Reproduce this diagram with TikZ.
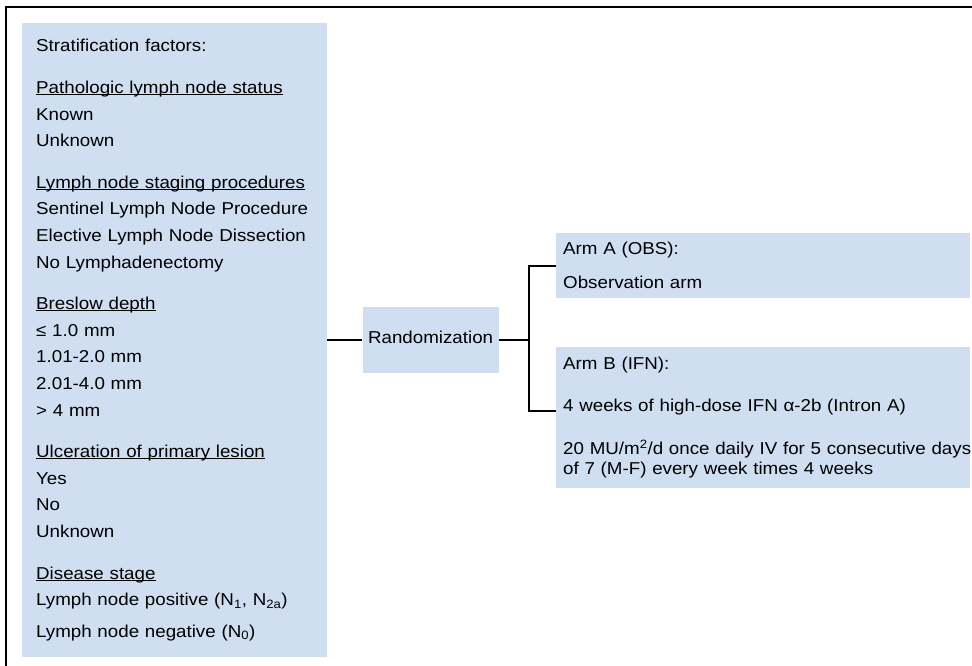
\documentclass[tikz,border=0pt]{standalone}
\usepackage{fontspec}
\setmainfont{Liberation Sans}[FakeStretch=1.09]
\usetikzlibrary{positioning}
\definecolor{boxblue}{RGB}{207,222,240}
\newcommand\hdr[1]{\leavevmode\setbox0=\hbox{#1}\rlap{\rule[-1.6bp]{\wd0}{0.9bp}}\box0}

\begin{document}
\begin{tikzpicture}[x=1bp, y=-1bp,
    box/.style={rectangle, fill=boxblue, align=left},
    link/.style={line width=1.8bp},
    stratfont/.style={font={\fontsize{17.2bp}{26.6bp}\selectfont}},
    armfont/.style={font={\fontsize{17.2bp}{20bp}\selectfont}}]
    \useasboundingbox (0,0) rectangle (972,666);
    \draw[line width=1.5bp] (6,666) -- (6,7) -- (972,7);

    \node[box, stratfont, anchor=north west, text width=277bp, inner xsep=14bp, minimum height=634bp] (strat) at (22,23) {Stratification factors:\\[15bp]
        \hdr{Pathologic lymph node status}\\
        Known\\
        Unknown\\[15bp]
        \hdr{Lymph node staging procedures}\\
        Sentinel Lymph Node Procedure\\
        Elective Lymph Node Dissection\\
        No Lymphadenectomy\\[15bp]
        \hdr{Breslow depth}\\
        ≤ 1.0 mm\\
        1.01-2.0 mm\\
        2.01-4.0 mm\\
        > 4 mm\\[15bp]
        \hdr{Ulceration of primary lesion}\\
        Yes\\
        No\\
        Unknown\\[15bp]
        \hdr{Disease stage}\\
        Lymph node positive (N\textsubscript{1}, N\textsubscript{2a})\\[5bp]
        Lymph node negative (N\textsubscript{0})};
    \node[box, stratfont, right=35bp of strat, minimum width=136bp, minimum height=66bp, inner sep=0pt, text height=12.5bp, text depth=5.5bp] (rand) {Randomization};

    \node[box, armfont, anchor=north west, text width=400bp, inner xsep=7bp, minimum height=65bp] (armA) at (556,233) {Arm A (OBS):\\[14bp]
        Observation arm};
    \node[box, armfont, anchor=north west, text width=400bp, inner xsep=7bp, minimum height=141bp] (armB) at (556,347) {Arm B (IFN):\\[22bp]
        4 weeks of high-dose IFN α-2b (Intron A)\\[23bp]
        \mbox{20 MU/m\textsuperscript{2}/d once daily IV for 5 consecutive days}\\
        of 7 (M-F) every week times 4 weeks};

    \draw[link] (strat) -- (rand);
    \draw[link] (rand.east) -- ++(30,0) coordinate (split) |- (armA.west);
    \draw[link] (split) |- ([yshift=-64bp]armB.north west);
\end{tikzpicture}
\end{document}
